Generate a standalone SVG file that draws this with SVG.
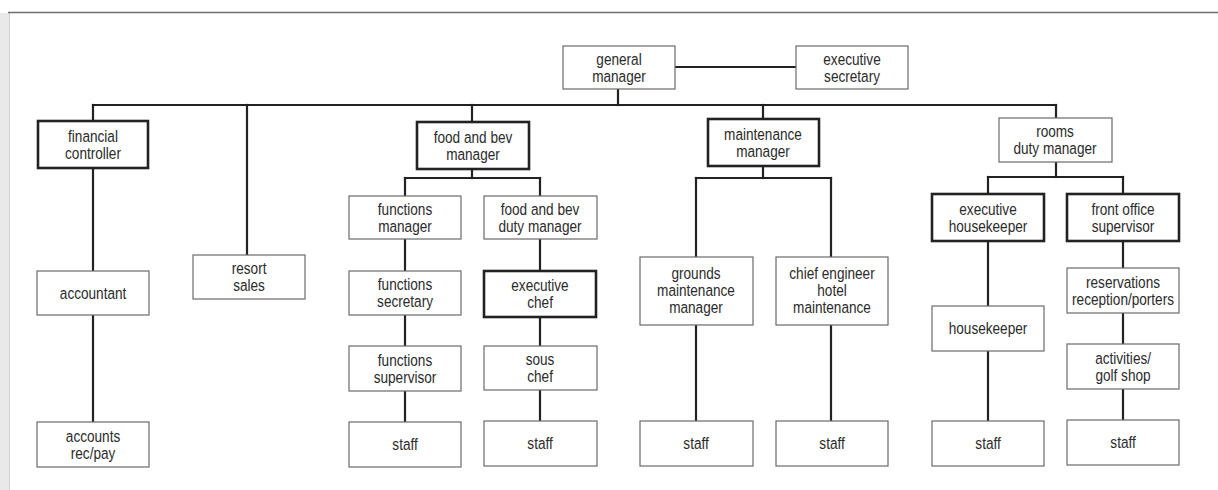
<svg xmlns="http://www.w3.org/2000/svg" width="1218" height="490" viewBox="0 0 1218 490">
  <style>
    .box { fill: #ffffff; stroke: #6a6a6a; stroke-width: 1.2; }
    .key { fill: #ffffff; stroke: #222222; stroke-width: 2.6; }
    .lbl { font-family: "Liberation Sans", Arial, sans-serif; font-size: 17px; fill: #2b2b2b; text-anchor: middle; dominant-baseline: central; transform-box: fill-box; transform-origin: center; transform: scaleX(0.8); }
    .wire { stroke: #222222; stroke-width: 2.2; fill: none; stroke-linecap: square; }
  </style>

  <!-- page edge and rule -->
  <rect x="0" y="0" width="1218" height="490" fill="#ffffff"/>
  <rect x="0" y="13" width="9" height="477" fill="#e9e9e9"/>
  <line x1="9.5" y1="13" x2="9.5" y2="490" stroke="#d2d2d2" stroke-width="1"/>
  <line x1="8" y1="12.5" x2="1218" y2="12.5" stroke="#6e6e6e" stroke-width="1.5"/>

  <!-- reporting lines -->
  <g id="connectors">
    <path class="wire" d="M675 67 H796"/>
    <path class="wire" d="M618 89 V105"/>
    <path class="wire" d="M93 105 H1056"/>
    <path class="wire" d="M93 105 V121"/>
    <path class="wire" d="M247 105 V255"/>
    <path class="wire" d="M472 105 V122"/>
    <path class="wire" d="M763 105 V119"/>
    <path class="wire" d="M1056 105 V118"/>

    <!-- finance -->
    <path class="wire" d="M93 168 V271"/>
    <path class="wire" d="M93 315 V422"/>

    <!-- food and beverage -->
    <path class="wire" d="M472 169 V178"/>
    <path class="wire" d="M405 178 H540"/>
    <path class="wire" d="M405 178 V196"/>
    <path class="wire" d="M540 178 V196"/>
    <path class="wire" d="M405 239 V271"/>
    <path class="wire" d="M405 315 V346"/>
    <path class="wire" d="M405 391 V422"/>
    <path class="wire" d="M540 239 V271"/>
    <path class="wire" d="M540 317 V346"/>
    <path class="wire" d="M540 390 V421"/>

    <!-- maintenance -->
    <path class="wire" d="M763 166 V178"/>
    <path class="wire" d="M696 178 H831"/>
    <path class="wire" d="M696 178 V257"/>
    <path class="wire" d="M831 178 V257"/>
    <path class="wire" d="M696 325 V421"/>
    <path class="wire" d="M831 325 V421"/>

    <!-- rooms -->
    <path class="wire" d="M1056 162 V177"/>
    <path class="wire" d="M988 177 H1123"/>
    <path class="wire" d="M988 177 V194"/>
    <path class="wire" d="M1123 177 V194"/>
    <path class="wire" d="M988 241 V306"/>
    <path class="wire" d="M988 351 V421"/>
    <path class="wire" d="M1123 241 V268"/>
    <path class="wire" d="M1123 313 V344"/>
    <path class="wire" d="M1123 389 V420"/>
  </g>

  <!-- top level -->
  <g id="general-manager">
    <rect class="box" x="563" y="46" width="112" height="43"/>
    <text class="lbl" x="619" y="59">general</text>
    <text class="lbl" x="619" y="76">manager</text>
  </g>
  <g id="executive-secretary">
    <rect class="box" x="796" y="46" width="112" height="43"/>
    <text class="lbl" x="852" y="59">executive</text>
    <text class="lbl" x="852" y="76">secretary</text>
  </g>

  <!-- department heads -->
  <g id="financial-controller">
    <rect class="key" x="38" y="121" width="110" height="47"/>
    <text class="lbl" x="93" y="136">financial</text>
    <text class="lbl" x="93" y="153">controller</text>
  </g>
  <g id="resort-sales">
    <rect class="box" x="193" y="255" width="112" height="44"/>
    <text class="lbl" x="249" y="268">resort</text>
    <text class="lbl" x="249" y="285">sales</text>
  </g>
  <g id="food-and-bev-manager">
    <rect class="key" x="417" y="122" width="112" height="47"/>
    <text class="lbl" x="473" y="137">food and bev</text>
    <text class="lbl" x="473" y="154">manager</text>
  </g>
  <g id="maintenance-manager">
    <rect class="key" x="708" y="119" width="111" height="47"/>
    <text class="lbl" x="763" y="134">maintenance</text>
    <text class="lbl" x="763" y="151">manager</text>
  </g>
  <g id="rooms-duty-manager">
    <rect class="box" x="999" y="118" width="113" height="44"/>
    <text class="lbl" x="1055" y="131">rooms</text>
    <text class="lbl" x="1055" y="148">duty manager</text>
  </g>

  <!-- finance -->
  <g id="accountant">
    <rect class="box" x="37" y="271" width="112" height="44"/>
    <text class="lbl" x="93" y="293">accountant</text>
  </g>
  <g id="accounts-rec-pay">
    <rect class="box" x="37" y="422" width="112" height="45"/>
    <text class="lbl" x="93" y="436">accounts</text>
    <text class="lbl" x="93" y="453">rec/pay</text>
  </g>

  <!-- food and beverage -->
  <g id="functions-manager">
    <rect class="box" x="349" y="196" width="112" height="43"/>
    <text class="lbl" x="405" y="209">functions</text>
    <text class="lbl" x="405" y="226">manager</text>
  </g>
  <g id="food-and-bev-duty-manager">
    <rect class="box" x="484" y="196" width="113" height="43"/>
    <text class="lbl" x="540" y="209">food and bev</text>
    <text class="lbl" x="540" y="226">duty manager</text>
  </g>
  <g id="functions-secretary">
    <rect class="box" x="349" y="271" width="112" height="44"/>
    <text class="lbl" x="405" y="284">functions</text>
    <text class="lbl" x="405" y="301">secretary</text>
  </g>
  <g id="executive-chef">
    <rect class="key" x="484" y="271" width="112" height="46"/>
    <text class="lbl" x="540" y="285">executive</text>
    <text class="lbl" x="540" y="302">chef</text>
  </g>
  <g id="functions-supervisor">
    <rect class="box" x="349" y="346" width="112" height="45"/>
    <text class="lbl" x="405" y="360">functions</text>
    <text class="lbl" x="405" y="377">supervisor</text>
  </g>
  <g id="sous-chef">
    <rect class="box" x="484" y="346" width="113" height="44"/>
    <text class="lbl" x="540" y="359">sous</text>
    <text class="lbl" x="540" y="376">chef</text>
  </g>
  <g id="functions-staff">
    <rect class="box" x="349" y="422" width="112" height="45"/>
    <text class="lbl" x="405" y="444">staff</text>
  </g>
  <g id="kitchen-staff">
    <rect class="box" x="484" y="421" width="113" height="45"/>
    <text class="lbl" x="540" y="443">staff</text>
  </g>

  <!-- maintenance -->
  <g id="grounds-maintenance-manager">
    <rect class="box" x="640" y="257" width="113" height="68"/>
    <text class="lbl" x="696" y="273">grounds</text>
    <text class="lbl" x="696" y="290">maintenance</text>
    <text class="lbl" x="696" y="307">manager</text>
  </g>
  <g id="chief-engineer">
    <rect class="box" x="776" y="257" width="112" height="68"/>
    <text class="lbl" x="832" y="273">chief engineer</text>
    <text class="lbl" x="832" y="290">hotel</text>
    <text class="lbl" x="832" y="307">maintenance</text>
  </g>
  <g id="grounds-staff">
    <rect class="box" x="640" y="421" width="113" height="45"/>
    <text class="lbl" x="696" y="443">staff</text>
  </g>
  <g id="engineering-staff">
    <rect class="box" x="776" y="421" width="112" height="45"/>
    <text class="lbl" x="832" y="443">staff</text>
  </g>

  <!-- rooms -->
  <g id="executive-housekeeper">
    <rect class="key" x="932" y="194" width="112" height="47"/>
    <text class="lbl" x="988" y="209">executive</text>
    <text class="lbl" x="988" y="226">housekeeper</text>
  </g>
  <g id="front-office-supervisor">
    <rect class="key" x="1067" y="194" width="112" height="47"/>
    <text class="lbl" x="1123" y="209">front office</text>
    <text class="lbl" x="1123" y="226">supervisor</text>
  </g>
  <g id="housekeeper">
    <rect class="box" x="932" y="306" width="112" height="45"/>
    <text class="lbl" x="988" y="328">housekeeper</text>
  </g>
  <g id="reservations">
    <rect class="box" x="1067" y="268" width="112" height="45"/>
    <text class="lbl" x="1123" y="282">reservations</text>
    <text class="lbl" x="1123" y="299">reception/porters</text>
  </g>
  <g id="activities-golf-shop">
    <rect class="box" x="1067" y="344" width="112" height="45"/>
    <text class="lbl" x="1123" y="358">activities/</text>
    <text class="lbl" x="1123" y="375">golf shop</text>
  </g>
  <g id="housekeeping-staff">
    <rect class="box" x="932" y="421" width="112" height="45"/>
    <text class="lbl" x="988" y="443">staff</text>
  </g>
  <g id="front-office-staff">
    <rect class="box" x="1067" y="420" width="112" height="45"/>
    <text class="lbl" x="1123" y="442">staff</text>
  </g>
</svg>
